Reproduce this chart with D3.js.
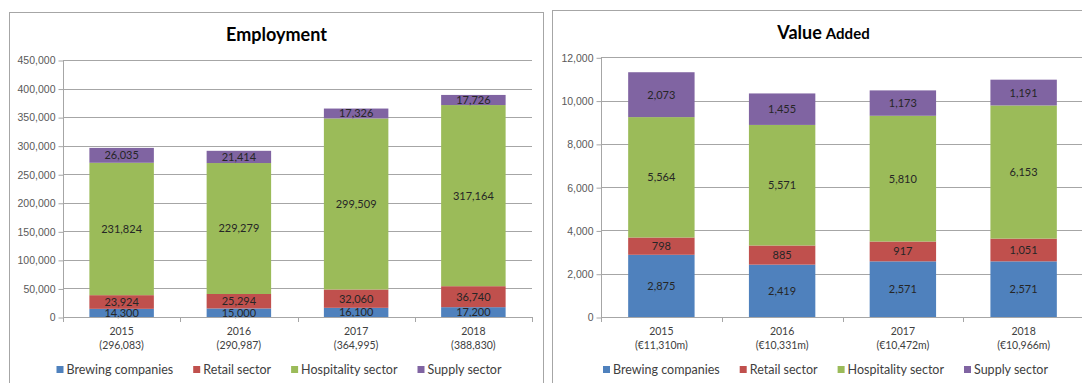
<!DOCTYPE html>
<html>
<head>
<meta charset="utf-8">
<script src="https://cdn.jsdelivr.net/npm/d3@7"></script>
<style>
  body { margin: 0; background: #fff; }
  svg { display: block; font-family: Lato, "Open Sans", sans-serif; }
  .grid { stroke: #a6a6a6; stroke-width: 1; }
  .frame { fill: none; stroke: #a6a6a6; stroke-width: 1; }
  .tick text { fill: #595959; font-size: 10.5px; }
  .barLabel { fill: #262626; font-size: 11px; }
  .catLabel { fill: #404040; font-size: 10.5px; }
  .legend text { fill: #404040; font-size: 12.5px; }
  .title { fill: #000; font-weight: bold; }
</style>
</head>
<body>
<script>
//chart data
var years = ["2015", "2016", "2017", "2018"];
var seriesNames = ["Brewing companies", "Retail sector", "Hospitality sector", "Supply sector"];
var seriesColors = ["#4F81BD", "#C0504D", "#9BBB59", "#8064A2"];

//employment (persons)
var empBrewing = [14300, 15000, 16100, 17200];
var empRetail = [23924, 25294, 32060, 36740];
var empHospitality = [231824, 229279, 299509, 317164];
var empSupply = [26035, 21414, 17326, 17726];
var empTotals = ["(296,083)", "(290,987)", "(364,995)", "(388,830)"];
var empTicks = [0, 50000, 100000, 150000, 200000, 250000, 300000, 350000, 400000, 450000];

//value added (EUR m)
var vaBrewing = [2875, 2419, 2571, 2571];
var vaRetail = [798, 885, 917, 1051];
var vaHospitality = [5564, 5571, 5810, 6153];
var vaSupply = [2073, 1455, 1173, 1191];
var vaTotals = ["(€11,310m)", "(€10,331m)", "(€10,472m)", "(€10,966m)"];
var vaTicks = [0, 2000, 4000, 6000, 8000, 10000, 12000];

(function(){

var width = 1082,
    height = 383;

var svg = d3.select("body")
    .append("svg")
    .attr("width", width)
    .attr("height", height);

var fmt = d3.format(",");

drawPanel({
    frame: [9.5, 12.5, 534, 420],
    title: [["Employment", 18]],
    titleX: 276.5, titleY: 41,
    left: 63, right: 532, top: 60, bottom: 317,
    ticks: empTicks,
    values: [empBrewing, empRetail, empHospitality, empSupply],
    totals: empTotals,
    legendX: 279
});

drawPanel({
    frame: [552.5, 10.5, 560, 420],
    title: [["Value", 18], ["Added", 15]],
    titleX: 823.5, titleY: 38.5,
    left: 601, right: 1084, top: 57.3, bottom: 317,
    ticks: vaTicks,
    values: [vaBrewing, vaRetail, vaHospitality, vaSupply],
    totals: vaTotals,
    legendX: 825.5
});

function drawPanel(cfg){
    var g = svg.append("g");

    //outer chart border
    g.append("rect")
        .attr("class", "frame")
        .attr("x", cfg.frame[0])
        .attr("y", cfg.frame[1])
        .attr("width", cfg.frame[2])
        .attr("height", cfg.frame[3]);

    //title, possibly in several sizes
    var title = g.append("text")
        .attr("class", "title")
        .attr("x", cfg.titleX)
        .attr("y", cfg.titleY)
        .attr("text-anchor", "middle");
    cfg.title.forEach(function(t, i){
        title.append("tspan")
            .attr("font-size", t[1] + "px")
            .attr("dx", i > 0 ? 4 : 0)
            .text(t[0]);
    });

    var x = d3.scaleBand()
        .domain(years)
        .range([cfg.left, cfg.right]);

    var y = d3.scaleLinear()
        .domain([0, d3.max(cfg.ticks)])
        .range([cfg.bottom, cfg.top]);

    //horizontal gridlines
    g.selectAll(".grid")
        .data(cfg.ticks)
        .enter()
        .append("line")
        .attr("class", "grid")
        .attr("x1", cfg.left)
        .attr("x2", cfg.right)
        .attr("y1", function(d){ return Math.round(y(d)) + 0.5; })
        .attr("y2", function(d){ return Math.round(y(d)) + 0.5; });

    //y axis
    var yAxis = d3.axisLeft(y)
        .tickValues(cfg.ticks)
        .tickSize(5)
        .tickPadding(3)
        .tickFormat(fmt);

    var ya = g.append("g")
        .attr("transform", "translate(" + (cfg.left + 0.5) + ",0.5)")
        .call(yAxis);
    ya.selectAll("path, line").attr("stroke", "#a6a6a6");
    ya.select(".domain").attr("d", "M0," + y(0) + "V" + y(d3.max(cfg.ticks)));

    //stack the four series
    var rows = years.map(function(yr, i){
        var r = { year: yr };
        seriesNames.forEach(function(s, j){ r[s] = cfg.values[j][i]; });
        return r;
    });
    var stacked = d3.stack().keys(seriesNames)(rows);

    var barW = x.bandwidth() * 0.55,
        barOff = (x.bandwidth() - barW) / 2;

    var layers = g.selectAll(".layer")
        .data(stacked)
        .enter()
        .append("g")
        .attr("class", "layer")
        .attr("fill", function(d, i){ return seriesColors[i]; });

    layers.selectAll("rect")
        .data(function(d){ return d; })
        .enter()
        .append("rect")
        .attr("x", function(d){ return x(d.data.year) + barOff; })
        .attr("width", barW)
        .attr("y", function(d){ return y(d[1]); })
        .attr("height", function(d){ return y(d[0]) - y(d[1]); });

    //x axis line and category ticks
    g.append("line")
        .attr("x1", cfg.left)
        .attr("x2", cfg.right)
        .attr("y1", Math.round(y(0)) + 0.5)
        .attr("y2", Math.round(y(0)) + 0.5)
        .attr("stroke", "#a6a6a6");

    var bounds = years.map(function(yr){ return x(yr); }).concat([cfg.right]);
    g.selectAll(".xtick")
        .data(bounds)
        .enter()
        .append("line")
        .attr("class", "xtick")
        .attr("x1", function(d){ return Math.round(d) + 0.5; })
        .attr("x2", function(d){ return Math.round(d) + 0.5; })
        .attr("y1", y(0))
        .attr("y2", y(0) + 5)
        .attr("stroke", "#a6a6a6");

    //value labels in the middle of each segment
    layers.selectAll(".barLabel")
        .data(function(d){ return d; })
        .enter()
        .append("text")
        .attr("class", "barLabel")
        .attr("text-anchor", "middle")
        .attr("x", function(d){ return x(d.data.year) + x.bandwidth() / 2; })
        .attr("y", function(d){ return (y(d[0]) + y(d[1])) / 2; })
        .attr("dy", "0.36em")
        .text(function(d){ return fmt(d[1] - d[0]); });

    //category labels, year and total on two lines
    var cat = g.selectAll(".catLabel")
        .data(years)
        .enter()
        .append("text")
        .attr("class", "catLabel")
        .attr("text-anchor", "middle")
        .attr("y", 335);
    cat.append("tspan")
        .attr("x", function(d){ return x(d) + x.bandwidth() / 2; })
        .text(function(d){ return d; });
    cat.append("tspan")
        .attr("x", function(d){ return x(d) + x.bandwidth() / 2; })
        .attr("dy", 14)
        .text(function(d, i){ return cfg.totals[i]; });

    //legend laid out left to right, then centred
    var legend = g.append("g").attr("class", "legend");
    var cursor = 0;
    seriesNames.forEach(function(s, i){
        legend.append("rect")
            .attr("x", cursor)
            .attr("y", -4)
            .attr("width", 7)
            .attr("height", 7)
            .attr("fill", seriesColors[i]);
        var t = legend.append("text")
            .attr("x", cursor + 10)
            .attr("y", 4)
            .text(s);
        cursor += 10 + t.node().getComputedTextLength() + 20;
    });
    cursor -= 20;
    legend.attr("transform", "translate(" + (cfg.legendX - cursor / 2) + ",370)");
}

})();
</script>
</body>
</html>
